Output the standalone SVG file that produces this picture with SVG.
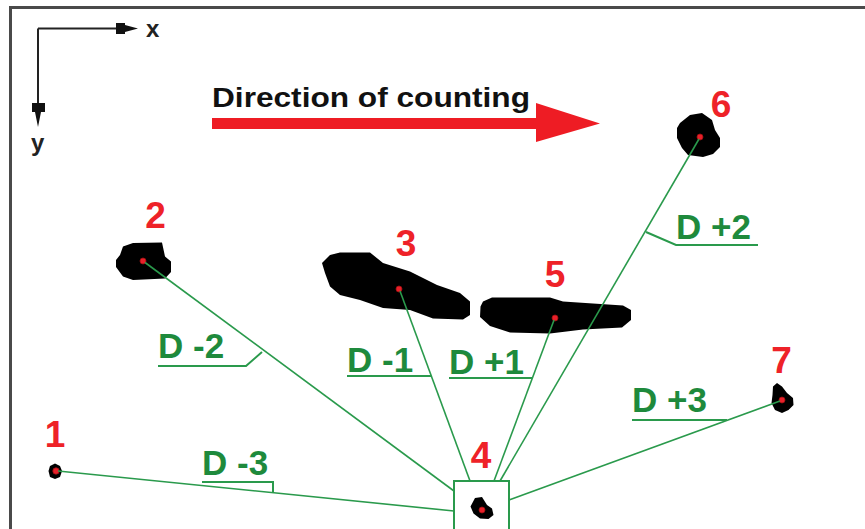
<svg xmlns="http://www.w3.org/2000/svg" width="865" height="529" viewBox="0 0 865 529">
  <style>
    .frame { stroke: #4a4a4a; stroke-width: 3; fill: none; }
    .axis { stroke: #222; stroke-width: 2; fill: none; }
    .axhead { fill: #111; }
    .axlbl { font-family: "Liberation Sans", Arial, sans-serif; font-size: 24px; font-weight: bold; fill: #222; }
    .title { font-family: "Liberation Sans", Arial, sans-serif; font-size: 28px; font-weight: bold; fill: #111; }
    .blob { fill: #000; }
    .dot { fill: #e8202a; stroke: #a01010; stroke-width: 0.8; }
    .num { font-family: "Liberation Sans", Arial, sans-serif; font-size: 37px; font-weight: bold; fill: #ee2228; text-anchor: middle; }
    .link { stroke: #2a9a4c; stroke-width: 1.6; fill: none; }
    .lead { stroke: #2a9a4c; stroke-width: 2; fill: none; }
    .dlbl { font-family: "Liberation Sans", Arial, sans-serif; font-size: 35px; font-weight: bold; fill: #1e8a3c; }
    .box { stroke: #2a9a4c; stroke-width: 2; fill: none; }
  </style>

  <rect width="865" height="529" fill="#fff"/>

  <!-- frame: top and left edges only -->
  <path class="frame" d="M10.5,529 V7.5 H865"/>

  <!-- coordinate axes -->
  <g id="axes">
    <path class="axis" d="M38,28.5 H118 M38,28.5 V104"/>
    <polygon class="axhead" points="116,23 125,23 125,25 138,28.5 125,32 125,34 116,34"/>
    <polygon class="axhead" points="32,103 45,103 45,112 41,112 38,127 35,112 32,112"/>
    <text class="axlbl" x="146" y="37">x</text>
    <text class="axlbl" x="31" y="151">y</text>
  </g>

  <!-- direction of counting -->
  <g id="direction">
    <text class="title" x="212" y="107" textLength="318" lengthAdjust="spacingAndGlyphs">Direction of counting</text>
    <polygon fill="#ee1c24" points="212,118 536,118 536,103 600,123.5 536,142 536,129 212,129"/>
  </g>

  <g id="node1">
    <path class="blob" d="M50,466 L55,463.5 L60,466 L62,471 L60,477 L55,479 L50,477 L48.5,471 Z"/>
    <circle class="dot" cx="56" cy="471" r="3.2"/>
    <text class="num" x="55" y="447">1</text>
  </g>

  <g id="node2">
    <path class="blob" d="M123,246.5 L133,243 L162,242.5 L165,256.5 L171,261.5 L171,272 L165,278.5 L133,280 L123,276.5 L116,267 L116,260 L120,255 Z"/>
    <circle class="dot" cx="143" cy="261" r="3"/>
    <text class="num" x="155.5" y="228">2</text>
  </g>

  <g id="node3">
    <path class="blob" d="M322,263 L330,255 L340,252.5 L370,252.5 L383,263 L410,271.5 L420,276.5 L437,285 L460,293 L470,301.5 L470,315 L463,319.5 L433,318.5 L410,310 L383,308 L360,300 L340,295 L330,286.5 L325,273 Z"/>
    <circle class="dot" cx="399" cy="289" r="3"/>
    <text class="num" x="406" y="256">3</text>
  </g>

  <g id="node4">
    <rect class="box" x="454" y="481" width="55" height="60"/>
    <path class="blob" d="M475,498 L482,497 L487,505 L492,508.5 L493.5,515 L488.5,519 L480,518.5 L473.5,513.5 L470.5,506.5 Z"/>
    <circle class="dot" cx="482" cy="510" r="3"/>
    <text class="num" x="481" y="468">4</text>
  </g>

  <g id="node5">
    <path class="blob" d="M483,301.5 L492,297.5 L550,297.5 L563,301.5 L623,305.5 L631,310 L631,320 L622,327.5 L583,329.5 L550,333.5 L510,332.5 L490,326 L480,317 L480.5,306.5 Z"/>
    <circle class="dot" cx="555" cy="318" r="3"/>
    <text class="num" x="555" y="287">5</text>
  </g>

  <g id="node6">
    <path class="blob" d="M680,123 L690,115 L702,113 L712,120 L715,130 L720,138 L720,147 L713,154 L703,157 L688,155 L682,148 L677,138 L677,128 Z"/>
    <circle class="dot" cx="700" cy="137" r="3"/>
    <text class="num" x="721" y="117">6</text>
  </g>

  <g id="node7">
    <path class="blob" d="M773,386.5 L777,383 L782,386.5 L787,393 L793,398 L793.5,405 L788.5,410 L782,413 L775,410 L771.5,403 L772.5,395 Z"/>
    <circle class="dot" cx="782" cy="400" r="3"/>
    <text class="num" x="781.5" y="373">7</text>
  </g>

  <!-- connectors from the reference object to its neighbours, drawn over the objects -->
  <g id="connectors">
    <line class="link" x1="58" y1="471" x2="454" y2="511"/>
    <line class="link" x1="145" y1="262.5" x2="454" y2="491"/>
    <line class="link" x1="400" y1="291" x2="470" y2="481"/>
    <line class="link" x1="554" y1="320" x2="494" y2="481"/>
    <line class="link" x1="699" y1="139" x2="500" y2="481"/>
    <line class="link" x1="780" y1="401" x2="509" y2="500"/>

    <!-- label leaders -->
    <polyline class="lead" points="202,482 273,482 273,493"/>
    <polyline class="lead" points="158,366 246,366 262,352"/>
    <polyline class="lead" points="347,376 431,376"/>
    <polyline class="lead" points="449,378 532,378"/>
    <polyline class="lead" points="758,245 676,245 646,232"/>
    <polyline class="lead" points="632,420 727,420"/>

    <text class="dlbl" x="202" y="475">D -3</text>
    <text class="dlbl" x="158" y="358">D -2</text>
    <text class="dlbl" x="347" y="372">D -1</text>
    <text class="dlbl" x="449" y="374">D +1</text>
    <text class="dlbl" x="676" y="239">D +2</text>
    <text class="dlbl" x="632" y="412">D +3</text>
  </g>
</svg>
